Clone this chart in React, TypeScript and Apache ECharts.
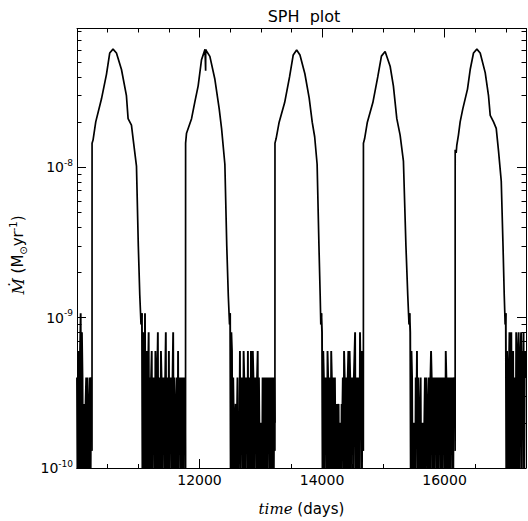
import React, { useEffect, useRef } from 'react';
import * as echarts from 'echarts';

// ---- axis ranges / ticks ----
const X_MIN = 10000;
const X_MAX = 17330;
const Y_MIN = 1e-10;
const Y_MAX = 8.4e-8;
const xMajorTicks = [12000, 14000, 16000];
const xMinorTicks = [10500, 11000, 11500, 12500, 13000, 13500, 14500, 15000, 15500, 16500, 17000];
const yDecades = [-10, -9, -8];
const yMinorMultipliers = [2, 3, 4, 5, 6, 7, 8, 9];

// ---- noise (quantised accretion levels between outbursts) ----
const noiseLevels = [5e-11, 1.33e-10, 2e-10, 2.67e-10, 4e-10, 6e-10, 8e-10, 1.07e-9];
const noiseStep = 10; // days between samples
const noiseStarts = [10000, 11060, 12500, 13990, 15430, 17000];
const noise0 = [4, 0, 4, 5, 0, 5, 7, 0, 6, 4, 0, 3, 2, 0, 3, 4, 0, 4, 4, 0, 3, 4, 0, 4];
const noise1 = [
  7, 0, 6, 4, 0, 7, 0, 4, 5,
  0, 4, 6, 0, 4, 0, 4,
  5, 0, 4, 1, 4, 0, 5, 4, 0, 4,
  6, 0, 4, 4, 0,
  5, 4, 0, 4, 2, 4, 0, 4, 6, 0,
  4, 4, 0, 5, 0, 4, 1, 4, 0, 4,
  6, 0, 4, 4, 0, 3, 4, 0, 5, 0,
  4, 2, 4, 0, 4, 3, 0, 4, 1, 4, 0,
];
const noise2 = [
  7, 0, 6, 5, 0, 4,
  2, 0, 2, 3, 0, 2, 4, 0, 2, 1,
  5, 0, 4, 2, 4, 0, 5, 4, 0, 4,
  3, 4, 0, 5, 0, 4, 4, 0, 5, 4,
  0, 5, 4, 0, 4, 2, 4, 0, 4, 5,
  0, 4, 4, 0, 2, 2, 0, 4, 4, 0,
  4, 3, 0, 4, 4, 0, 4, 2, 4, 0,
  4, 4, 0, 4, 3, 0, 4, 2,
];
const noise3 = [
  7, 6, 0, 5, 4,
  0, 4, 2, 4, 0, 5, 4, 0, 2, 4,
  0, 5, 4, 0, 4, 2, 0, 4, 1, 0,
  3, 0, 2, 3, 0, 2, 1, 0, 3, 2,
  4, 0, 5, 4, 0, 4, 4, 0, 4, 5,
  0, 5, 4, 0, 4, 2, 4, 0, 4, 4,
  6, 0, 4, 4, 0, 4, 2, 0, 6, 4,
  5, 0, 5, 4,
];
const noise4 = [
  7, 6, 0, 5, 4,
  0, 2, 1, 2, 0, 4, 2, 5, 0, 4,
  2, 0, 2, 4, 0, 2, 1, 2, 0, 2,
  4, 0, 4, 4, 2, 0, 4, 4, 0, 4,
  5, 4, 0, 4, 4, 0, 4, 2, 4, 0,
  4, 4, 0, 4, 3, 4, 0, 4, 4, 0,
  4, 2, 4, 0, 5, 4, 0, 4, 4, 0,
  4, 4, 0, 4, 2, 4, 0, 4, 4,
];
const noise5 = [
  7, 0, 5, 4, 0, 4,
  6, 0, 4, 6, 0, 4, 5, 0, 4, 4,
  0, 6, 4, 0, 5, 6, 0, 4, 5, 6,
  0, 5, 4, 6, 0, 5, 4, 5,
];

// ---- outbursts (time in days, Mdot in Msun/yr) ----
const cycle1T = [10245, 10246, 10262, 10306, 10399, 10481, 10534, 10588, 10644, 10726, 10807, 10834, 10889, 10915, 10971, 11001, 11025, 11045, 11060];
const cycle1V = [1.3e-10, 1.45e-8, 1.52e-8, 2.01e-8, 2.85e-8, 4.16e-8, 5.77e-8, 6.12e-8, 5.77e-8, 4.48e-8, 3.0e-8, 2.11e-8, 1.91e-8, 1.56e-8, 1.02e-8, 3e-9, 1.41e-9, 9e-10, 1.07e-9];
const cycle2T = [11772, 11773, 11788, 11870, 11924, 11978, 12033, 12090, 12099, 12100, 12101, 12108, 12169, 12251, 12321, 12360, 12414, 12445, 12470, 12490, 12500];
const cycle2V = [1.3e-10, 1.45e-8, 1.69e-8, 2.11e-8, 2.73e-8, 3.49e-8, 5.21e-8, 6.1e-8, 6.12e-8, 4.4e-8, 6.1e-8, 6.0e-8, 5.48e-8, 3.86e-8, 2.46e-8, 1.82e-8, 1.05e-8, 3e-9, 1.4e-9, 9e-10, 1.07e-9];
const cycle3T = [13231, 13232, 13250, 13300, 13390, 13470, 13530, 13586, 13640, 13720, 13790, 13840, 13880, 13920, 13950, 13970, 13980, 13990];
const cycle3V = [1.3e-10, 1.45e-8, 1.55e-8, 2.0e-8, 2.7e-8, 4.0e-8, 5.6e-8, 6.05e-8, 5.6e-8, 4.2e-8, 2.9e-8, 2.0e-8, 1.6e-8, 1.05e-8, 3e-9, 1.4e-9, 9e-10, 1.07e-9];
const cycle4T = [14675, 14676, 14695, 14740, 14830, 14910, 14970, 15030, 15112, 15165, 15221, 15275, 15329, 15370, 15400, 15420, 15430];
const cycle4V = [1.3e-10, 1.45e-8, 1.55e-8, 2.0e-8, 2.7e-8, 4.0e-8, 5.5e-8, 5.91e-8, 4.71e-8, 3.49e-8, 2.11e-8, 1.64e-8, 1.10e-8, 3e-9, 1.4e-9, 9e-10, 1.07e-9];
const cycle5T = [16173, 16174, 16190, 16200, 16227, 16255, 16299, 16337, 16375, 16419, 16473, 16528, 16582, 16664, 16718, 16746, 16800, 16844, 16882, 16926, 16955, 16975, 16990, 17000];
const cycle5V = [1.3e-10, 1.31e-8, 1.25e-8, 1.4e-8, 1.64e-8, 2.01e-8, 2.46e-8, 2.86e-8, 3.32e-8, 4.48e-8, 5.77e-8, 6.12e-8, 5.77e-8, 4.27e-8, 3.0e-8, 2.22e-8, 2.01e-8, 1.82e-8, 1.28e-8, 8.1e-9, 3e-9, 1.4e-9, 9e-10, 1.07e-9];

const noiseSeg = (start: number, codes: number[]) =>
  codes.map((c, i) => [start + i * noiseStep, noiseLevels[c]]);
const cyc = (t: number[], v: number[]) => t.map((tt, i) => [tt, v[i]]);
const lastNoise = (start: number, codes: number[]) =>
  [start + (codes.length - 1) * noiseStep, noiseLevels[codes[codes.length - 1]]];
const GAP: any = [null, null];

// quiescent (noise) parts, separated so they are not joined to each other
const noiseData = [
  ...noiseSeg(noiseStarts[0], noise0), GAP,
  ...noiseSeg(noiseStarts[1], noise1), GAP,
  ...noiseSeg(noiseStarts[2], noise2), GAP,
  ...noiseSeg(noiseStarts[3], noise3), GAP,
  ...noiseSeg(noiseStarts[4], noise4), GAP,
  ...noiseSeg(noiseStarts[5], noise5),
];
// outburst parts
const burstData = [
  lastNoise(noiseStarts[0], noise0), ...cyc(cycle1T, cycle1V), GAP,
  lastNoise(noiseStarts[1], noise1), ...cyc(cycle2T, cycle2V), GAP,
  lastNoise(noiseStarts[2], noise2), ...cyc(cycle3T, cycle3V), GAP,
  lastNoise(noiseStarts[3], noise3), ...cyc(cycle4T, cycle4V), GAP,
  lastNoise(noiseStarts[4], noise4), ...cyc(cycle5T, cycle5V),
];

const LOG_MAX = Math.log10(Y_MAX);
const yMinorLog = yDecades
  .flatMap((d) => yMinorMultipliers.map((m) => d + Math.log10(m)))
  .filter((v) => v < LOG_MAX);

const SANS = 'DejaVu Sans';
const SERIF = 'DejaVu Serif';
const AX = { color: '#000', width: 1 };

export default function App() {
  const ref = useRef<HTMLDivElement>(null);
  useEffect(() => {
    if (!ref.current) return;
    const chart = echarts.init(ref.current, null, { renderer: 'svg' });
    const hiddenLabel = { show: false };
    const option: any = {
      animation: false,
      backgroundColor: '#fff',
      title: {
        text: 'SPH  plot',
        left: 299,
        top: 3,
        textAlign: 'center',
        textStyle: { fontFamily: SANS, fontWeight: 'normal', fontSize: 16, color: '#000' },
      },
      graphic: [
        {
          type: 'text',
          x: 18,
          y: 255,
          rotation: Math.PI / 2,
          silent: true,
          style: {
            text: '{it|Ṁ} (M{sub|⊙}yr{sup|-1})',
            fill: '#000',
            fontFamily: SANS,
            fontSize: 15,
            align: 'center',
            verticalAlign: 'middle',
            rich: {
              it: { fontFamily: SERIF, fontStyle: 'italic', fontSize: 16, fill: '#000', lineHeight: 20 },
              sub: { fontFamily: SANS, fontSize: 10, fill: '#000', lineHeight: 10, verticalAlign: 'bottom' },
              sup: { fontFamily: SANS, fontSize: 10, fill: '#000', lineHeight: 10, verticalAlign: 'top' },
            },
          },
        },
      ],
      grid: { left: 77, right: 2, top: 28.5, bottom: 45.5, containLabel: false },
      xAxis: [
        {
          type: 'value', position: 'bottom', min: X_MIN, max: X_MAX,
          axisLine: { show: true, onZero: false, lineStyle: AX },
          axisTick: { show: true, inside: true, length: 9, customValues: xMajorTicks, lineStyle: AX },
          axisLabel: {
            customValues: xMajorTicks, color: '#000', fontFamily: SANS, fontSize: 14, margin: 5,
            formatter: (v: number) => String(v),
          },
          splitLine: { show: false },
          name: '{it|time} (days)',
          nameLocation: 'middle',
          nameGap: 33,
          nameTextStyle: {
            fontFamily: SANS, fontSize: 15, color: '#000',
            rich: { it: { fontFamily: SERIF, fontStyle: 'italic', fontSize: 15, color: '#000' } },
          },
        },
        {
          type: 'value', position: 'bottom', min: X_MIN, max: X_MAX,
          axisLine: { show: false, onZero: false },
          axisTick: { show: true, inside: true, length: 4, customValues: xMinorTicks, lineStyle: AX },
          axisLabel: hiddenLabel, splitLine: { show: false },
        },
        {
          type: 'value', position: 'top', min: X_MIN, max: X_MAX,
          axisLine: { show: true, onZero: false, lineStyle: AX },
          axisTick: { show: true, inside: true, length: 9, customValues: xMajorTicks, lineStyle: AX },
          axisLabel: hiddenLabel, splitLine: { show: false },
        },
        {
          type: 'value', position: 'top', min: X_MIN, max: X_MAX,
          axisLine: { show: false, onZero: false },
          axisTick: { show: true, inside: true, length: 4, customValues: xMinorTicks, lineStyle: AX },
          axisLabel: hiddenLabel, splitLine: { show: false },
        },
      ],
      yAxis: [
        {
          type: 'log', logBase: 10, position: 'left', min: Y_MIN, max: Y_MAX,
          axisLine: { show: true, onZero: false, lineStyle: AX },
          axisTick: { show: true, inside: true, length: 9, lineStyle: AX },
          minorTick: { show: false },
          splitLine: { show: false },
          axisLabel: {
            margin: 4,
            color: '#000',
            formatter: (v: number) => {
              const e = Math.log10(v);
              const r = Math.round(e);
              if (Math.abs(e - r) > 1e-6) return '';
              return '{b|10}{s|' + r + '}';
            },
            rich: {
              b: { fontFamily: SANS, fontSize: 14, color: '#000', lineHeight: 18 },
              s: { fontFamily: SANS, fontSize: 9, color: '#000', lineHeight: 9, verticalAlign: 'top' },
            },
          },
        },
        {
          type: 'value', position: 'left', min: -10, max: LOG_MAX,
          axisLine: { show: false, onZero: false },
          axisTick: { show: true, inside: true, length: 4.5, customValues: yMinorLog, lineStyle: AX },
          axisLabel: hiddenLabel, splitLine: { show: false },
        },
        {
          type: 'log', logBase: 10, position: 'right', min: Y_MIN, max: Y_MAX,
          axisLine: { show: true, onZero: false, lineStyle: AX },
          axisTick: { show: true, inside: true, length: 9, lineStyle: AX },
          axisLabel: hiddenLabel, splitLine: { show: false }, minorTick: { show: false },
        },
        {
          type: 'value', position: 'right', min: -10, max: LOG_MAX,
          axisLine: { show: false, onZero: false },
          axisTick: { show: true, inside: true, length: 4.5, customValues: yMinorLog, lineStyle: AX },
          axisLabel: hiddenLabel, splitLine: { show: false },
        },
      ],
      series: [
        {
          name: 'quiescent',
          type: 'line',
          xAxisIndex: 0,
          yAxisIndex: 0,
          data: noiseData,
          connectNulls: false,
          showSymbol: false,
          symbol: 'none',
          clip: true,
          silent: true,
          lineStyle: { color: '#000', width: 1.9, join: 'miter' },
        },
        {
          name: 'outburst',
          type: 'line',
          xAxisIndex: 0,
          yAxisIndex: 0,
          data: burstData,
          connectNulls: false,
          showSymbol: false,
          symbol: 'none',
          clip: true,
          silent: true,
          lineStyle: { color: '#000', width: 1.7 },
        },
      ],
    };
    chart.setOption(option);
    return () => chart.dispose();
  }, []);
  return (
    <div
      ref={ref}
      style={{ position: 'fixed', left: 0, top: 0, width: 528, height: 521, background: '#fff' }}
    />
  );
}
